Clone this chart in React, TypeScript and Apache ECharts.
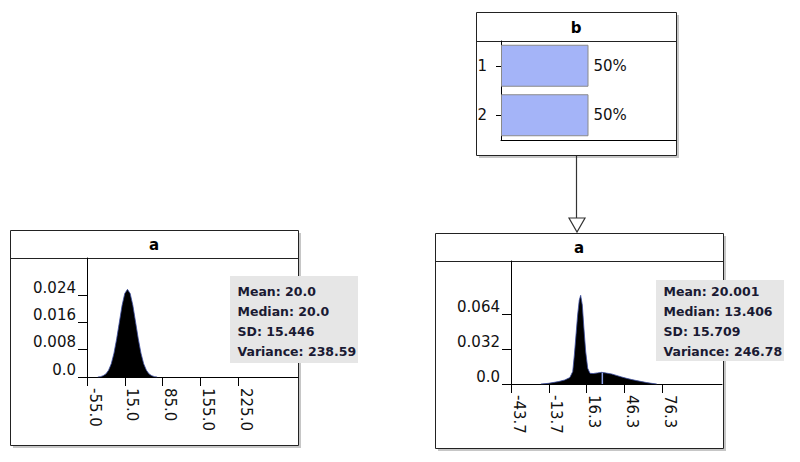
import React, { useEffect, useRef } from "react";
import * as echarts from "echarts";

// ---- data ----
const leftX = [-35, -30, -25, -20, -15, -10, -5, 0, 5, 10, 15, 20, 25, 30, 35, 40, 45, 50, 55, 60, 65, 70, 75];
const leftDensity = [0, 0.0001, 0.0004, 0.0009, 0.002, 0.0039, 0.007, 0.0112, 0.0161, 0.021, 0.0245, 0.0257, 0.0245, 0.021, 0.0161, 0.0112, 0.007, 0.0039, 0.002, 0.0009, 0.0004, 0.0001, 0];

const rightX = [-20, -14, -6, -1, 3, 5.3, 6.6, 7.9, 9.2, 10.5, 11.6, 12.9, 14.2, 15.6, 17.2, 19, 21.6, 25, 28.3, 32, 36.2, 40, 44.2, 48, 52.1, 56, 60, 64, 68, 72];
const rightDensity = [0, 0.0006, 0.0022, 0.0037, 0.0059, 0.0114, 0.0267, 0.045, 0.0634, 0.077, 0.0814, 0.0725, 0.051, 0.0297, 0.0144, 0.0098, 0.0096, 0.0102, 0.0107, 0.01, 0.0092, 0.0079, 0.0064, 0.0052, 0.0041, 0.0031, 0.0022, 0.0013, 0.0006, 0];
const rightMarkerX = 28.8;
const rightMarkerTop = 0.0104;

const leftXTicks = [-55, 15, 85, 155, 225];
const leftXTickLabels = ["-55.0", "15.0", "85.0", "155.0", "225.0"];
const leftYTicks = [0, 0.008, 0.016, 0.024];
const leftYTickLabels = ["0.0", "0.008", "0.016", "0.024"];

const rightXTicks = [-43.7, -13.7, 16.3, 46.3, 76.3];
const rightXTickLabels = ["-43.7", "-13.7", "16.3", "46.3", "76.3"];
const rightYTicks = [0, 0.032, 0.064];
const rightYTickLabels = ["0.0", "0.032", "0.064"];

const bCategories = ["1", "2"];
const bValues = [50, 50];

const leftTitle = "a";
const rightTitle = "a";
const topTitle = "b";
const leftStats = ["Mean: 20.0", "Median: 20.0", "SD: 15.446", "Variance: 238.59"];
const rightStats = ["Mean: 20.001", "Median: 13.406", "SD: 15.709", "Variance: 246.78"];

const FONT = "DejaVu Sans";

function labelFor(ticks: number[], labels: string[]) {
  return (v: number) => {
    for (let i = 0; i < ticks.length; i++) {
      if (Math.abs(ticks[i] - v) < 1e-6) return labels[i];
    }
    return "";
  };
}

function valueXAxis(grid: number, min: number, max: number, ticks: number[], labels: string[]) {
  return {
    type: "value",
    gridIndex: grid,
    min,
    max,
    axisLine: { show: true, onZero: false, lineStyle: { color: "#000", width: 1 } },
    axisTick: { show: true, length: 9, customValues: ticks, lineStyle: { color: "#000" } },
    axisLabel: {
      customValues: ticks,
      formatter: labelFor(ticks, labels),
      rotate: -90,
      margin: 11,
      verticalAlign: "bottom",
      color: "#111",
      fontSize: 15,
      fontFamily: FONT,
    },
    splitLine: { show: false },
  };
}

function valueYAxis(grid: number, max: number, ticks: number[], labels: string[]) {
  return {
    type: "value",
    gridIndex: grid,
    min: 0,
    max,
    axisLine: { show: true, onZero: false, lineStyle: { color: "#000", width: 1 } },
    axisTick: { show: true, length: 9, customValues: ticks, lineStyle: { color: "#000" } },
    axisLabel: {
      customValues: ticks,
      formatter: labelFor(ticks, labels),
      margin: 11,
      verticalAlign: "bottom",
      color: "#111",
      fontSize: 15,
      fontFamily: FONT,
    },
    splitLine: { show: false },
  };
}

function panel(x: number, y: number, w: number, h: number, titleH: number, title: string) {
  return [
    { type: "rect", z: -20, shape: { x: x + 3, y: y + 3, width: w, height: h }, style: { fill: "#c6c6c6" } },
    { type: "rect", z: -10, shape: { x: x + 0.5, y: y + 0.5, width: w, height: h }, style: { fill: "#fff", stroke: "#222", lineWidth: 1 } },
    { type: "line", z: -9, shape: { x1: x, y1: y + titleH + 0.5, x2: x + w, y2: y + titleH + 0.5 }, style: { stroke: "#222", lineWidth: 1 } },
    {
      type: "text",
      z: 50,
      x: x + w / 2,
      y: y + titleH / 2 + 1,
      style: { text: title, fontSize: 15, fontWeight: "bold", fontFamily: FONT, fill: "#000", align: "center", verticalAlign: "middle" },
    },
  ];
}

function statsBox(x: number, y: number, w: number, h: number, lines: string[], firstY: number) {
  const els: any[] = [
    { type: "rect", z: 100, shape: { x, y, width: w, height: h }, style: { fill: "#e6e6e6" } },
  ];
  lines.forEach((t, i) => {
    els.push({
      type: "text",
      z: 101,
      x: x + 7.5,
      y: firstY + i * 20,
      style: { text: t, fontSize: 12.5, fontWeight: "bold", fontFamily: FONT, fill: "#1a1a33", align: "left", verticalAlign: "middle" },
    });
  });
  return els;
}

export default function App() {
  const ref = useRef<HTMLDivElement>(null);
  useEffect(() => {
    if (!ref.current) return;
    const chart = echarts.init(ref.current, null, { renderer: "svg" });
    const option: any = {
      animation: false,
      backgroundColor: "#fff",
      textStyle: { fontFamily: FONT },
      grid: [
        { left: 87, top: 258, width: 211, height: 119, outerBoundsMode: "none" },
        { left: 511, top: 261, width: 211, height: 123, outerBoundsMode: "none" },
        { left: 501, top: 41, width: 175, height: 99, outerBoundsMode: "none" },
      ],
      xAxis: [
        valueXAxis(0, -55, 336, leftXTicks, leftXTickLabels),
        valueXAxis(1, -43.7, 123.8, rightXTicks, rightXTickLabels),
        {
          type: "value",
          gridIndex: 2,
          min: 0,
          max: 100,
          axisLine: { show: true, onZero: false, lineStyle: { color: "#000" } },
          axisTick: { show: false },
          axisLabel: { show: false },
          splitLine: { show: false },
        },
      ],
      yAxis: [
        valueYAxis(0, 0.0349, leftYTicks, leftYTickLabels),
        valueYAxis(1, 0.1129, rightYTicks, rightYTickLabels),
        {
          type: "category",
          gridIndex: 2,
          data: bCategories,
          inverse: true,
          axisLine: { show: true, onZero: false, lineStyle: { color: "#000" } },
          axisTick: { show: true, length: 5, alignWithLabel: true, lineStyle: { color: "#000" } },
          axisLabel: { margin: 14, color: "#111", fontSize: 15, fontFamily: FONT },
          splitLine: { show: false },
        },
      ],
      series: [
        {
          type: "line",
          xAxisIndex: 0,
          yAxisIndex: 0,
          data: leftX.map((x, i) => [x, leftDensity[i]]),
          symbol: "none",
          lineStyle: { color: "#3b4ca0", width: 0.8 },
          areaStyle: { color: "#000", opacity: 1 },
          z: 3,
        },
        {
          type: "line",
          xAxisIndex: 1,
          yAxisIndex: 1,
          data: rightX.map((x, i) => [x, rightDensity[i]]),
          symbol: "none",
          lineStyle: { color: "#3b4ca0", width: 0.8 },
          areaStyle: { color: "#000", opacity: 1 },
          z: 3,
        },
        {
          type: "line",
          xAxisIndex: 1,
          yAxisIndex: 1,
          data: [
            [rightMarkerX, 0],
            [rightMarkerX, rightMarkerTop],
          ],
          symbol: "none",
          lineStyle: { color: "#8fa4ec", width: 1.5 },
          z: 4,
        },
        {
          type: "bar",
          xAxisIndex: 2,
          yAxisIndex: 2,
          data: bValues,
          barWidth: 42,
          itemStyle: { color: "#a4b4f8", borderColor: "#8a8a8a", borderWidth: 1 },
          label: {
            show: true,
            position: "right",
            distance: 5,
            formatter: "{c}%",
            color: "#111",
            fontSize: 15,
            fontFamily: FONT,
          },
        },
      ],
      graphic: {
        elements: [
          ...panel(10, 230, 288, 215, 28, leftTitle),
          ...panel(435, 233, 288, 215, 28, rightTitle),
          ...panel(476, 12, 200, 143, 29, topTitle),
          ...statsBox(230, 276, 128, 87, leftStats, 291),
          ...statsBox(656, 280, 128, 81, rightStats, 291),
          { type: "line", z: 50, shape: { x1: 576.5, y1: 156, x2: 576.5, y2: 218 }, style: { stroke: "#333", lineWidth: 1.2 } },
          {
            type: "polygon",
            z: 50,
            shape: { points: [[569, 218], [585, 218], [577, 232]] },
            style: { fill: "#fff", stroke: "#333", lineWidth: 1.2 },
          },
        ],
      },
    };
    chart.setOption(option);
    return () => chart.dispose();
  }, []);
  return <div ref={ref} style={{ position: "absolute", left: 0, top: 0, width: 800, height: 462 }} />;
}
